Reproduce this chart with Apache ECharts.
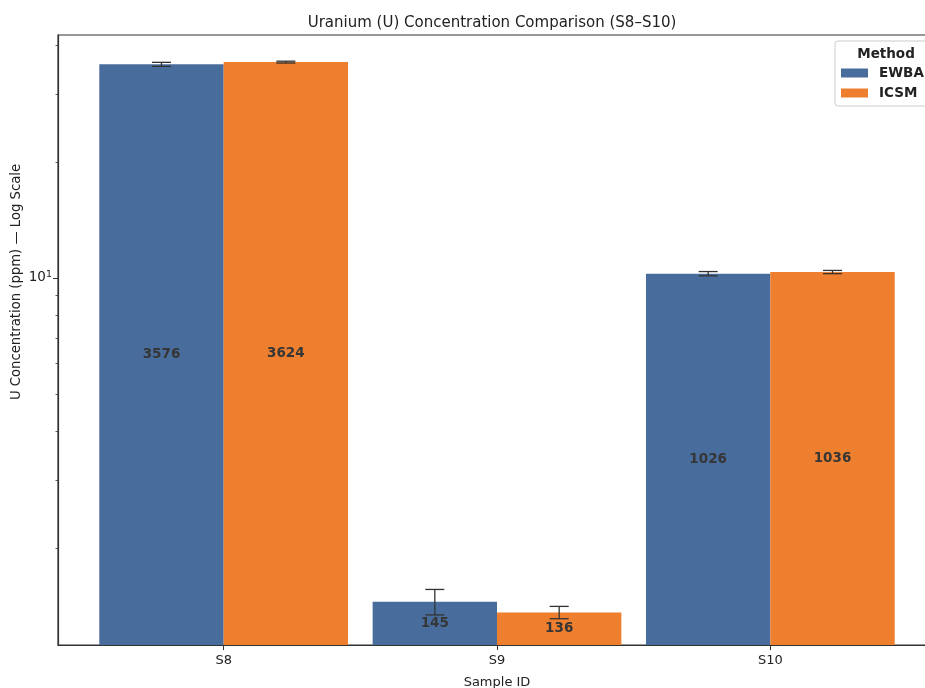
<!DOCTYPE html>
<html>
<head>
<meta charset="utf-8">
<script src="https://cdn.jsdelivr.net/npm/echarts@6/dist/echarts.min.js"></script>
<style>
  html, body { margin: 0; padding: 0; background: #ffffff; }
  #chart { width: 925px; height: 688px; }
</style>
</head>
<body>
<div id="chart"></div>
<script>
// Sample IDs and measured uranium concentrations (ppm) for the two methods
const samples = ['S8', 'S9', 'S10'];
const ewbaValues = [3576, 145, 1026];
const icsmValues = [3624, 136, 1036];
const ewbaErrors = [43, 11, 13];
const icsmErrors = [20, 5, 10];

// Log-axis ticks (ppm): one labelled major tick plus unlabelled minor ticks
const majorTicks = [1000];
const majorTickBase = ['10'];
const majorTickExp = ['1'];
const minorTicks = [200, 300, 400, 500, 600, 700, 800, 900, 2000, 3000, 4000];
const yMin = 112;
const yMax = 4260;

const FONT = 'DejaVu Sans';
const BLUE = '#486c9b';
const ORANGE = '#ee7f2e';
const INK = '#333333';
const GAP_FRAC = 0.09;

const chart = echarts.init(document.getElementById('chart'), null, { renderer: 'canvas' });

function errorBars(values, errors, side) {
  return {
    type: 'custom',
    xAxisIndex: 1,
    yAxisIndex: 1,
    z: 6,
    silent: true,
    data: values.map((v, i) => [i, v, errors[i]]),
    renderItem: function (params, api) {
      const i = api.value(0);
      const v = api.value(1);
      const e = api.value(2);
      const band = api.size([1, 0])[0];
      const barW = band * (1 - GAP_FRAC) / 2;
      const x = api.coord([i, v])[0] + side * barW / 2;
      const yHi = api.coord([i, v + e])[1];
      const yLo = api.coord([i, v - e])[1];
      const cap = 9.5;
      const st = { stroke: INK, lineWidth: 1.3 };
      return {
        type: 'group',
        children: [
          { type: 'line', shape: { x1: x, y1: yHi, x2: x, y2: yLo }, style: st },
          { type: 'line', shape: { x1: x - cap, y1: yHi, x2: x + cap, y2: yHi }, style: st },
          { type: 'line', shape: { x1: x - cap, y1: yLo, x2: x + cap, y2: yLo }, style: st }
        ]
      };
    }
  };
}

const barLabel = {
  show: true,
  position: 'inside',
  fontFamily: FONT,
  fontWeight: 'bold',
  fontSize: 13.5,
  color: '#363636'
};

const option = {
  animation: false,
  backgroundColor: '#ffffff',
  title: [
    {
      text: 'Uranium (U) Concentration Comparison (S8\u2013S10)',
      left: 487,
      top: 11,
      textAlign: 'center',
      textStyle: { fontFamily: FONT, fontSize: 15, fontWeight: 'normal', color: '#222222' }
    },
    {
      text: 'Method',
      left: 881,
      top: 42,
      textAlign: 'center',
      z: 20,
      textStyle: { fontFamily: FONT, fontSize: 13.5, fontWeight: 'bold', color: '#222222' }
    }
  ],
  legend: {
    left: 835,
    top: 41,
    orient: 'vertical',
    data: ['EWBA', 'ICSM'],
    icon: 'rect',
    itemWidth: 27,
    itemHeight: 9,
    itemGap: 6,
    padding: [25, 12, 6, 6],
    borderColor: '#cccccc',
    borderWidth: 1,
    borderRadius: 3,
    backgroundColor: '#ffffff',
    selectedMode: false,
    textStyle: { fontFamily: FONT, fontSize: 13.5, fontWeight: 'bold', color: '#222222', padding: [0, 0, 0, 6], lineHeight: 14 }
  },
  grid: [
    { left: 58, right: -5, top: 35, bottom: 43, show: true, borderColor: INK, borderWidth: 1.2, backgroundColor: 'transparent', outerBoundsMode: 'none', containLabel: false },
    { left: 87, right: 18, top: 35, bottom: 43, outerBoundsMode: 'none', containLabel: false }
  ],
  xAxis: [
    {
      type: 'value', gridIndex: 0, min: 0, max: 1, z: 10,
      axisLine: { show: true, lineStyle: { color: INK, width: 1.2 } },
      axisTick: { show: false }, axisLabel: { show: false }, splitLine: { show: false }
    },
    {
      type: 'category', gridIndex: 1, data: samples,
      name: 'Sample ID', nameLocation: 'middle', nameGap: 31,
      nameTextStyle: { fontFamily: FONT, fontSize: 13, color: '#222222' },
      axisLine: { show: false },
      axisTick: { show: true, alignWithLabel: true, length: 5, lineStyle: { color: INK, width: 1 } },
      axisLabel: { fontFamily: FONT, fontSize: 13, color: '#222222', margin: 9 },
      splitLine: { show: false }
    }
  ],
  yAxis: [
    {
      type: 'log', gridIndex: 0, logBase: 10, min: yMin, max: yMax, z: 10, position: 'left',
      axisLine: { show: true, lineStyle: { color: INK, width: 1.2 } },
      axisTick: { show: true, length: 5, customValues: majorTicks, lineStyle: { color: INK, width: 1 } },
      axisLabel: {
        show: true, customValues: majorTicks, margin: 6,
        fontFamily: FONT, fontSize: 13.5, color: '#222222',
        formatter: function (v) {
          const idx = majorTicks.indexOf(Math.round(v));
          return idx >= 0 ? '{b|' + majorTickBase[idx] + '}{e|' + majorTickExp[idx] + '}' : '';
        },
        rich: {
          b: { fontFamily: FONT, fontSize: 13.5, color: '#222222' },
          e: { fontFamily: FONT, fontSize: 9.5, color: '#222222', verticalAlign: 'bottom', padding: [0, 0, 7, 0] }
        }
      },
      splitLine: { show: false }
    },
    {
      type: 'log', gridIndex: 1, logBase: 10, min: yMin, max: yMax, show: false,
      splitLine: { show: false }
    },
    {
      type: 'log', gridIndex: 0, logBase: 10, min: yMin, max: yMax, position: 'left', offset: 0,
      axisLine: { show: false },
      axisTick: { show: true, length: 2.5, customValues: minorTicks, lineStyle: { color: INK, width: 0.8 } },
      axisLabel: { show: false },
      splitLine: { show: false }
    }
  ],
  graphic: [
    {
      type: 'text',
      x: 17,
      y: 282,
      rotation: Math.PI / 2,
      style: {
        text: 'U Concentration (ppm) \u2014 Log Scale',
        fontFamily: FONT,
        fontSize: 13.2,
        fill: '#222222',
        textAlign: 'center',
        textVerticalAlign: 'middle'
      }
    }
  ],
  series: [
    {
      name: 'EWBA', type: 'bar', xAxisIndex: 1, yAxisIndex: 1,
      data: ewbaValues, barGap: '0%', barCategoryGap: (GAP_FRAC * 100) + '%',
      itemStyle: { color: BLUE }, label: barLabel, clip: true
    },
    {
      name: 'ICSM', type: 'bar', xAxisIndex: 1, yAxisIndex: 1,
      data: icsmValues, barGap: '0%', barCategoryGap: (GAP_FRAC * 100) + '%',
      itemStyle: { color: ORANGE }, label: barLabel, clip: true
    },
    errorBars(ewbaValues, ewbaErrors, -1),
    errorBars(icsmValues, icsmErrors, 1)
  ]
};

chart.setOption(option);
</script>
</body>
</html>
